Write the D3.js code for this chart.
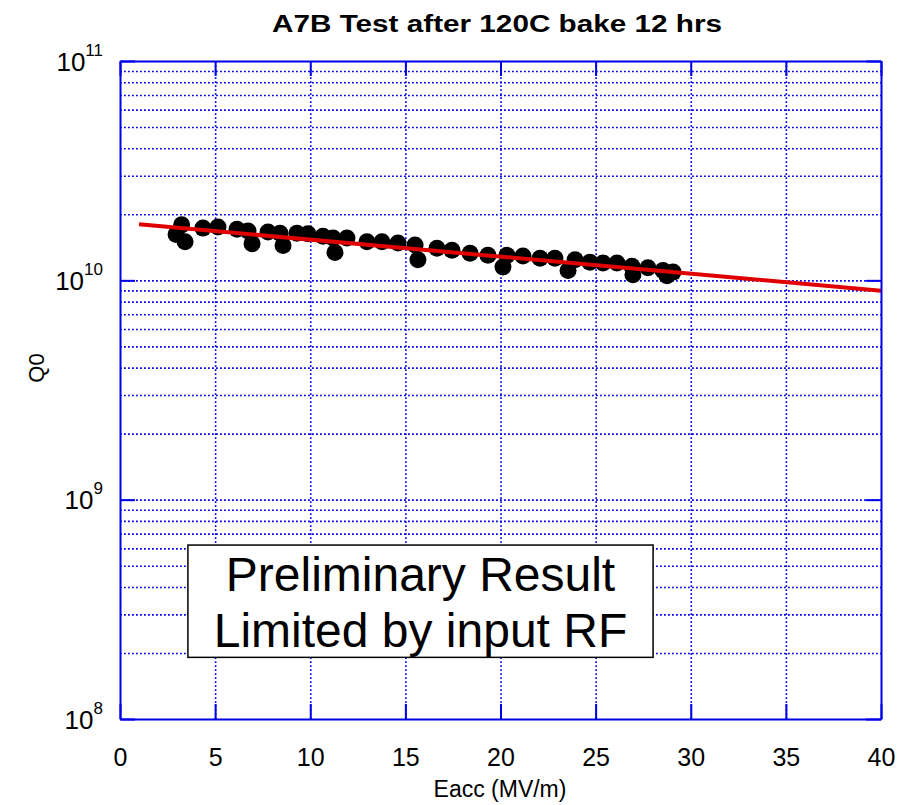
<!DOCTYPE html>
<html>
<head>
<meta charset="utf-8">
<script src="https://cdn.jsdelivr.net/npm/d3@7"></script>
<style>
  body { margin: 0; background: #fff; }
  text { font-family: "Liberation Sans", Arial, sans-serif; }
</style>
</head>
<body>
<svg id="chart" width="905" height="805"></svg>
<script>
// measured points, Eacc (MV/m) and Q0
var eacc = [2.95, 3.24, 3.42, 4.36, 5.15, 6.15, 6.73, 6.94, 7.78, 8.41, 8.57, 9.30, 9.88,
            10.67, 11.2, 11.3, 11.93, 12.98, 13.77, 14.61, 15.51, 15.66, 16.66, 17.45, 18.40,
            19.34, 20.13, 20.34, 21.18, 22.08, 22.86, 23.55, 23.92, 24.70, 25.39, 26.12,
            26.91, 26.96, 27.75, 28.54, 28.75, 29.07];
var q0 = [1.62e10, 1.79e10, 1.50e10, 1.73e10, 1.75e10, 1.71e10, 1.68e10, 1.47e10, 1.66e10, 1.64e10, 1.44e10, 1.64e10, 1.63e10,
          1.59e10, 1.56e10, 1.34e10, 1.56e10, 1.50e10, 1.50e10, 1.48e10, 1.45e10, 1.24e10, 1.40e10, 1.37e10, 1.33e10,
          1.30e10, 1.15e10, 1.30e10, 1.29e10, 1.26e10, 1.26e10, 1.11e10, 1.24e10, 1.21e10, 1.20e10, 1.20e10,
          1.16e10, 1.06e10, 1.14e10, 1.11e10, 1.05e10, 1.09e10];

// fitted trend line
var fitE = [1, 40];
var fitQ = [1.80e10, 8.97e9];

var xTicks = [0, 5, 10, 15, 20, 25, 30, 35, 40];
var yTicks = [1e8, 1e9, 1e10, 1e11];
var yExp = ["8", "9", "10", "11"];

var svg = d3.select("#chart"),
    margin = {top: 61, right: 24, bottom: 86, left: 120},
    width = +svg.attr("width") - margin.left - margin.right,
    height = +svg.attr("height") - margin.top - margin.bottom,
    g = svg.append("g").attr("transform", "translate(" + margin.left + "," + margin.top + ")");

var blue = "#0000e8";

var x = d3.scaleLinear().domain([0, 40]).range([0, width]);
var y = d3.scaleLog().domain([1e8, 1e11]).range([height, 0]);

// grid lines on every minor decade step
var gridY = [];
[1e8, 1e9, 1e10].forEach(function(d) {
  for (var m = 1; m <= 9; m++) if (!(d == 1e8 && m == 1)) gridY.push(m * d);
});

var xGrid = g.append("g")
    .attr("transform", "translate(0," + height + ")")
    .call(d3.axisBottom(x).tickValues(xTicks.slice(1, -1)).tickSize(-height).tickFormat(""));
var yGrid = g.append("g")
    .call(d3.axisLeft(y).tickValues(gridY).tickSize(-width).tickFormat(""));
[xGrid, yGrid].forEach(function(a) {
  a.select(".domain").remove();
  a.selectAll("line")
      .attr("stroke", blue)
      .attr("stroke-width", 1.6)
      .attr("stroke-dasharray", "1.8,2.2");
});

// data markers
g.append("g").selectAll("circle")
    .data(eacc)
  .enter().append("circle")
    .attr("cx", function(d) { return x(d); })
    .attr("cy", function(d, i) { return y(q0[i]); })
    .attr("r", 8.5)
    .attr("fill", "#000");

// red fit
var line = d3.line()
    .x(function(d) { return x(d); })
    .y(function(d, i) { return y(fitQ[i]); });
g.append("path")
    .datum(fitE)
    .attr("fill", "none")
    .attr("stroke", "#e00000")
    .attr("stroke-width", 4)
    .attr("d", line);

// axes, box style
var xAxis = g.append("g")
    .attr("transform", "translate(0," + height + ")")
    .call(d3.axisBottom(x).tickValues(xTicks).tickSize(-15).tickSizeOuter(0).tickPadding(29));
var xTop = g.append("g")
    .call(d3.axisTop(x).tickValues(xTicks).tickSize(-15).tickSizeOuter(0).tickFormat(""));
var yAxis = g.append("g")
    .call(d3.axisLeft(y).tickValues(yTicks).tickSize(-15).tickSizeOuter(0).tickFormat(""));
var yRight = g.append("g")
    .attr("transform", "translate(" + width + ",0)")
    .call(d3.axisRight(y).tickValues(yTicks).tickSize(-15).tickSizeOuter(0).tickFormat(""));

[xAxis, xTop, yAxis, yRight].forEach(function(a) {
  a.select(".domain").attr("stroke", blue).attr("stroke-width", 2);
  a.selectAll("line").attr("stroke", blue).attr("stroke-width", 2);
});

xAxis.selectAll("text")
    .attr("fill", "#000")
    .style("font-size", "25px")
    .style("font-family", "'Liberation Sans', Arial, sans-serif");

var yLab = yAxis.selectAll(".tick").append("text")
    .attr("x", -17)
    .attr("y", 9)
    .attr("fill", "#000")
    .attr("text-anchor", "end");
yLab.append("tspan").style("font-size", "26px").text("10");
yLab.append("tspan").style("font-size", "17px").attr("dy", -15)
    .text(function(d, i) { return yExp[i]; });

// annotation box
var bx0 = 3.57, bx1 = 28.02, by0 = 6.21e8, by1 = 1.91e8;
g.append("rect")
    .attr("x", x(bx0))
    .attr("y", y(by0))
    .attr("width", x(bx1) - x(bx0))
    .attr("height", y(by1) - y(by0))
    .attr("fill", "#fff")
    .attr("stroke", "#000")
    .attr("stroke-width", 1.5);
var note = ["Preliminary Result", "Limited by input RF"];
g.append("g").selectAll("text")
    .data(note)
  .enter().append("text")
    .attr("x", (x(bx0) + x(bx1)) / 2)
    .attr("y", function(d, i) { return y(by0) + 46 + i * 56; })
    .attr("text-anchor", "middle")
    .style("font-size", "48px")
    .attr("fill", "#000")
    .text(function(d) { return d; });

// labels
svg.append("text")
    .attr("x", 497)
    .attr("y", 32)
    .attr("text-anchor", "middle")
    .attr("textLength", 450)
    .attr("lengthAdjust", "spacingAndGlyphs")
    .style("font-size", "23px")
    .style("font-weight", "bold")
    .text("A7B Test after 120C bake 12 hrs");

svg.append("text")
    .attr("x", 500)
    .attr("y", 797)
    .attr("text-anchor", "middle")
    .style("font-size", "23px")
    .text("Eacc (MV/m)");

svg.append("text")
    .attr("transform", "translate(44,368) rotate(-90)")
    .attr("text-anchor", "middle")
    .style("font-size", "22px")
    .text("Q0");
</script>
</body>
</html>
